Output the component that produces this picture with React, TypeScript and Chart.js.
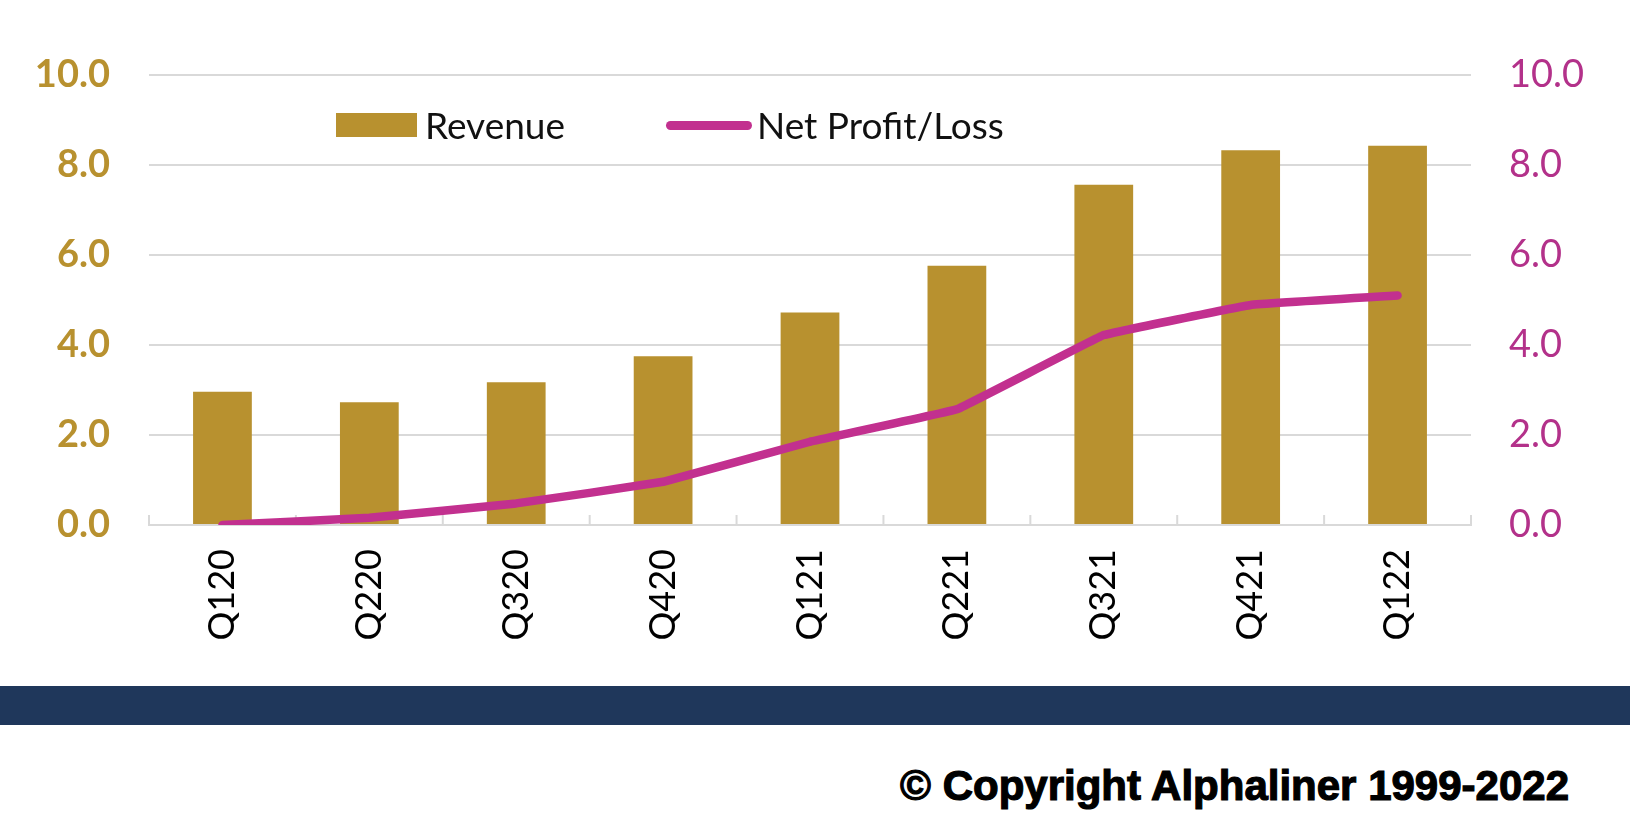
import React, { useEffect, useRef } from "react";
import { Chart, registerables } from "chart.js";

Chart.register(...registerables);

const categories = ["Q120", "Q220", "Q320", "Q420", "Q121", "Q221", "Q321", "Q421", "Q122"];
const revenue = [2.96, 2.73, 3.17, 3.75, 4.72, 5.76, 7.56, 8.33, 8.43];
const netProfit = [0.0, 0.16, 0.48, 0.96, 1.85, 2.57, 4.22, 4.89, 5.1];
const yTickValues = [0, 2, 4, 6, 8, 10];

const GOLD = "#B8912F";
const MAGENTA = "#C2308F";
const MAGENTA_TEXT = "#B3318A";
const GRID = "#D9D9D9";
const FONT = "Lato, 'Open Sans', sans-serif";

const boundaryTicks = {
  id: "boundaryTicks",
  beforeDatasetsDraw(chart: any) {
    const x = chart.scales.x;
    const area = chart.chartArea;
    const ctx = chart.ctx;
    const half = (x.getPixelForValue(1) - x.getPixelForValue(0)) / 2;
    ctx.save();
    ctx.strokeStyle = GRID;
    ctx.lineWidth = 2;
    for (let i = 0; i <= categories.length; i++) {
      const px = x.getPixelForValue(i) - half;
      ctx.beginPath();
      ctx.moveTo(px, area.bottom);
      ctx.lineTo(px, area.bottom - 10);
      ctx.stroke();
    }
    ctx.restore();
  },
};

function ChartCanvas() {
  const ref = useRef<HTMLCanvasElement | null>(null);
  useEffect(() => {
    if (!ref.current) return;
    const chart = new Chart(ref.current, {
      type: "bar",
      data: {
        labels: categories,
        datasets: [
          {
            type: "line",
            label: "Net Profit/Loss",
            data: netProfit,
            yAxisID: "y1",
            borderColor: MAGENTA,
            backgroundColor: MAGENTA,
            borderWidth: 8.5,
            pointRadius: 0,
            tension: 0.05,
            borderCapStyle: "round",
            borderJoinStyle: "round",
            order: 0,
          } as any,
          {
            type: "bar",
            label: "Revenue",
            data: revenue,
            yAxisID: "y",
            backgroundColor: GOLD,
            barPercentage: 0.4,
            categoryPercentage: 1.0,
            order: 1,
          },
        ],
      },
      options: {
        animation: false,
        responsive: false,
        maintainAspectRatio: false,
        layout: { padding: { top: 75, left: 0, right: 0, bottom: 0 } },
        plugins: { legend: { display: false }, tooltip: { enabled: false } },
        scales: {
          x: {
            grid: { display: false, drawTicks: false },
            border: { display: true, color: GRID, width: 2 },
            ticks: {
              color: "#000",
              font: { family: FONT, size: 36 },
              minRotation: 90,
              maxRotation: 90,
              padding: 24,
              autoSkip: false,
            },
            afterFit: (s: any) => {
              s.height = 161;
            },
          },
          y: {
            position: "left",
            min: 0,
            max: 10,
            grid: { color: GRID, lineWidth: 2, drawTicks: false },
            border: { display: false },
            afterBuildTicks: (s: any) => {
              s.ticks = yTickValues.map((v) => ({ value: v }));
            },
            ticks: {
              color: GOLD,
              font: { family: FONT, size: 38, weight: "bold" },
              padding: 39,
              callback: (v: any) => Number(v).toFixed(1),
            },
            afterFit: (s: any) => {
              s.width = 149;
            },
          },
          y1: {
            position: "right",
            min: 0,
            max: 10,
            grid: { display: false, drawTicks: false },
            border: { display: false },
            afterBuildTicks: (s: any) => {
              s.ticks = yTickValues.map((v) => ({ value: v }));
            },
            ticks: {
              color: MAGENTA_TEXT,
              font: { family: FONT, size: 38 },
              padding: 38,
              callback: (v: any) => Number(v).toFixed(1),
            },
            afterFit: (s: any) => {
              s.width = 159;
            },
          },
        },
      } as any,
      plugins: [boundaryTicks],
    });
    return () => chart.destroy();
  }, []);
  return <canvas ref={ref} width={1630} height={686} style={{ display: "block", width: 1630, height: 686 }} />;
}

export default function App() {
  const legendText: React.CSSProperties = {
    position: "absolute",
    fontFamily: FONT,
    fontSize: 37,
    lineHeight: "37px",
    color: "#111",
    whiteSpace: "nowrap",
    top: 106,
  };
  return (
    <div
      style={{
        position: "absolute",
        left: 0,
        top: 0,
        width: 1630,
        height: 834,
        background: "#fff",
        overflow: "hidden",
      }}
    >
      <ChartCanvas />
      <div style={{ position: "absolute", left: 336, top: 113, width: 81, height: 24, background: GOLD }} />
      <div style={{ ...legendText, left: 425 }}>Revenue</div>
      <div
        style={{
          position: "absolute",
          left: 666,
          top: 121,
          width: 86,
          height: 9,
          borderRadius: 5,
          background: MAGENTA,
        }}
      />
      <div style={{ ...legendText, left: 757 }}>Net Profit/Loss</div>
      <div style={{ position: "absolute", left: 0, top: 686, width: 1630, height: 39, background: "#1F375B" }} />
      <div
        style={{
          position: "absolute",
          right: 61,
          top: 765,
          fontFamily: "'Liberation Sans', Arial, sans-serif",
          fontWeight: 700,
          fontSize: 42,
          lineHeight: "42px",
          color: "#000",
          whiteSpace: "nowrap",
          WebkitTextStroke: "1.2px #000",
        }}
      >
        © Copyright Alphaliner 1999-2022
      </div>
    </div>
  );
}
